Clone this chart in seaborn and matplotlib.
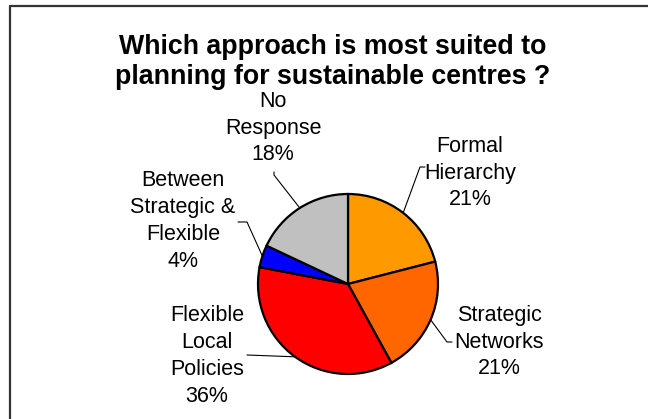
import numpy as np
import matplotlib
matplotlib.use('Agg')
import matplotlib.pyplot as plt
import seaborn as sns

sns.set_theme(style='white')
plt.rcParams['font.family'] = ['Liberation Sans', 'DejaVu Sans']

labels = ['Formal\nHierarchy', 'Strategic\nNetworks', 'Flexible\nLocal\nPolicies',
          'Between\nStrategic &\nFlexible', 'No\nResponse']
shares = [21, 21, 36, 4, 18]
colors = ['#FF9900', '#FF6600', '#FF0000', '#0000FF', '#C0C0C0']
title = 'Which approach is most suited to\nplanning for sustainable centres ?'

# label layout in pixels (y measured from top): text centre, elbow of leader
text_pos = [(470, 173), (499, 342), (207, 356), (183, 221), (273, 128)]
elbows = [[(420, 167), (425, 167)], [(447, 342), (452, 342)], [(247, 355)],
          [(247, 222), (238, 222)], [(274, 175), (274, 172)]]

W, H = 648, 419
cx, cy, R = 348, 284, 90  # pie centre and radius in px


def to_units(px, py):
    return (px - cx) / R, (cy - py) / R


fig = plt.figure(figsize=(W / 100, H / 100), dpi=100)
ax = fig.add_axes([0, 0, 1, 1])
wedges, _ = ax.pie(shares, colors=colors, startangle=90, counterclock=False,
                   radius=1, wedgeprops=dict(edgecolor='black', linewidth=1.6))
ax.set_xlim(-cx / R, (W - cx) / R)
ax.set_ylim(-(H - cy) / R, cy / R)
ax.set_aspect('equal')
ax.axis('off')

for w, lab, s, tp, el in zip(wedges, labels, shares, text_pos, elbows):
    ang = np.deg2rad((w.theta1 + w.theta2) / 2)
    pts = [(np.cos(ang), np.sin(ang))] + [to_units(*p) for p in el]
    xs, ys = zip(*pts)
    ax.plot(xs, ys, color='black', lw=0.8)
    tx, ty = to_units(*tp)
    ax.text(tx, ty, f'{lab}\n{s}%', ha='center', va='center', fontsize=15.5,
            linespacing=1.36, color='black')

fig.text(333 / W, 1 - 62 / H, title, ha='center', va='center', fontsize=19.3,
         fontweight='bold', linespacing=1.18, color='black')

# chart frame (only top and left edges fall inside the picture)
fig.add_artist(plt.Line2D([9.5 / W, 1], [1 - 6.5 / H, 1 - 6.5 / H], color='#333333', lw=1.6))
fig.add_artist(plt.Line2D([9.5 / W, 9.5 / W], [0, 1 - 6.5 / H], color='#333333', lw=1.6))

fig.savefig('out.png', dpi=100, facecolor='white')
